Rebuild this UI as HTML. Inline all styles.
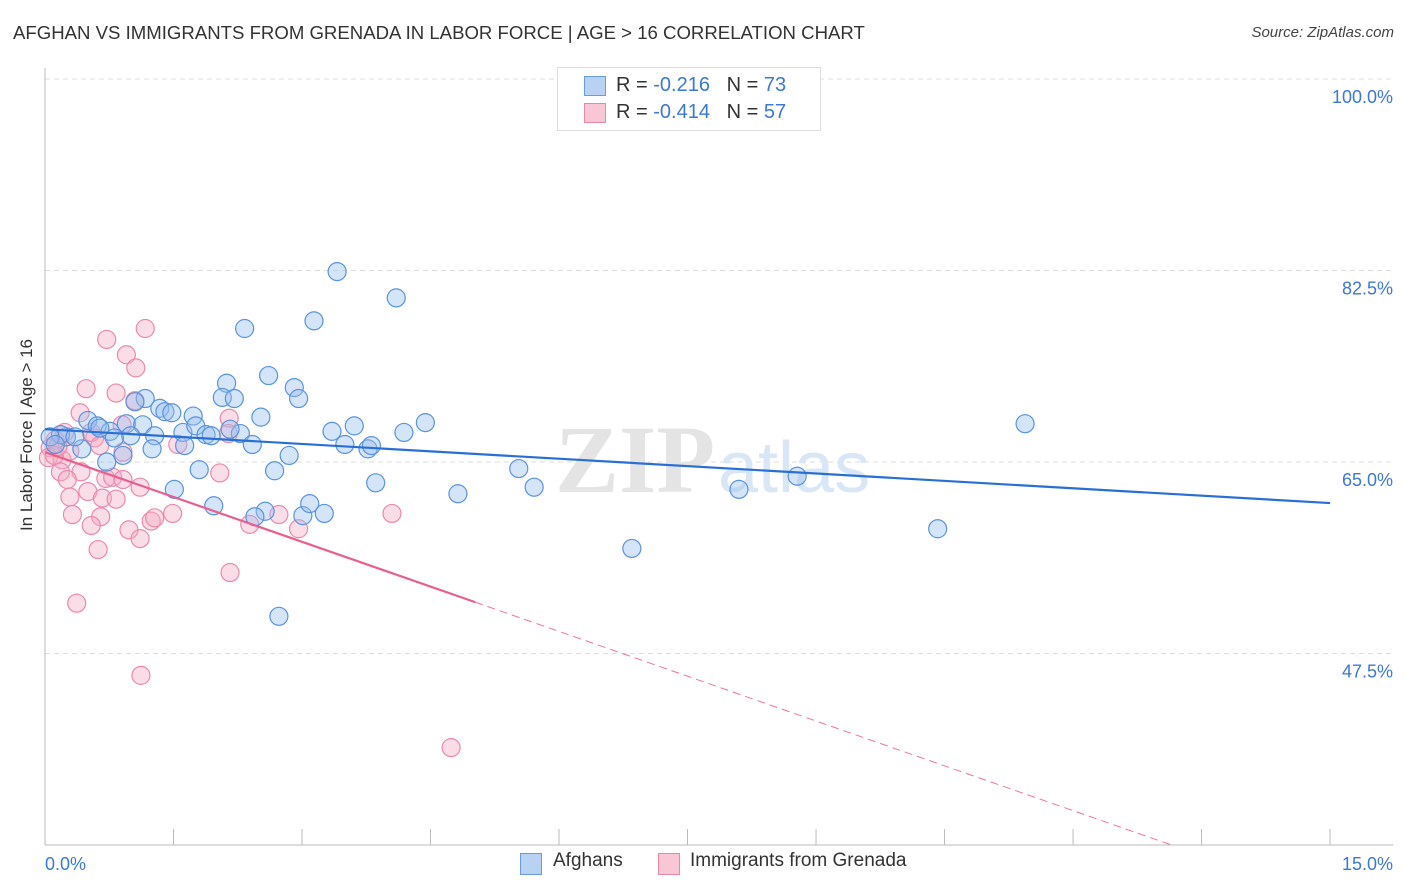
<!DOCTYPE html>
<html><head><meta charset="utf-8">
<style>
body{margin:0;background:#fff;font-family:"Liberation Sans",sans-serif;}
#wrap{position:relative;width:1406px;height:892px;overflow:hidden;}
.t{position:absolute;white-space:nowrap;}
</style></head><body>
<div id="wrap">
<div class="t" style="left:13px;top:22px;font-size:18.6px;color:#333;">AFGHAN VS IMMIGRANTS FROM GRENADA IN LABOR FORCE | AGE &gt; 16 CORRELATION CHART</div>
<div class="t" style="right:12px;top:24px;font-size:15px;color:#444;font-style:italic;">Source: ZipAtlas.com</div>
<div class="t" style="left:-48px;top:446px;font-size:17px;color:#333;transform:rotate(-90deg);width:150px;text-align:center;">In Labor Force | Age &gt; 16</div>
<svg id="svg" width="1406" height="892" style="position:absolute;left:0;top:0"></svg>
<div style="position:absolute;left:557px;top:67px;width:262px;height:62px;border:1px solid #ddd;background:#fff;font-size:20px;">
 <div style="position:absolute;left:26px;top:8px;width:20px;height:18px;background:#b8d2f3;border:1px solid #6a9be0;"></div>
 <div class="t" style="left:58px;top:6px;color:#333;">R = <span style="color:#3b78d8">-0.216</span> &nbsp;&nbsp;N = <span style="color:#3b78d8">73</span></div>
 <div style="position:absolute;left:26px;top:35px;width:20px;height:18px;background:#f9c6d5;border:1px solid #e88aa7;"></div>
 <div class="t" style="left:58px;top:33px;color:#333;">R = <span style="color:#3b78d8">-0.414</span> &nbsp;&nbsp;N = <span style="color:#3b78d8">57</span></div>
</div>
<div style="position:absolute;left:520px;top:853px;width:20px;height:20px;background:#b8d2f3;border:1px solid #6a9be0;"></div>
<div class="t" style="left:553px;top:850px;font-size:19px;color:#333;">Afghans</div>
<div style="position:absolute;left:658px;top:853px;width:20px;height:20px;background:#f9c6d5;border:1px solid #e88aa7;"></div>
<div class="t" style="left:690px;top:850px;font-size:19px;color:#333;">Immigrants from Grenada</div>
</div>
<script>
const yTicks=[100,82.5,65,47.5];
const xTickLabels=["0.0%","15.0%"];
const blueX=[3.41,4.10,2.33,3.14,2.61,2.12,2.91,2.96,2.07,2.21,1.17,1.05,1.34,1.40,1.48,1.73,2.52,0.50,0.61,0.95,1.14,0.76,1.00,1.28,1.61,1.76,1.88,1.94,2.28,2.42,3.35,3.61,3.50,3.77,3.81,4.19,4.44,1.25,1.63,0.91,0.72,0.43,0.25,0.18,0.06,0.12,2.85,1.80,2.68,3.86,1.51,1.97,2.57,2.45,3.01,3.09,3.26,4.82,5.53,5.71,6.85,8.10,8.78,10.42,11.44,2.73,0.81,0.35,0.64,2.16];
const blueY=[82.4,80.0,77.2,77.9,72.9,72.2,71.8,70.8,70.9,70.8,70.8,70.5,69.9,69.6,69.5,69.2,69.1,68.8,68.3,68.5,68.4,67.8,67.4,67.4,67.7,68.3,67.5,67.4,67.6,66.6,67.8,68.3,66.6,66.2,66.5,67.7,68.6,66.2,66.5,65.6,65.0,66.2,67.3,67.5,67.3,66.6,65.6,64.3,64.2,63.1,62.5,61.0,60.5,60.0,60.1,61.2,60.3,62.1,64.4,62.7,57.1,62.5,63.7,58.9,68.5,50.9,67.2,67.3,68.1,68.0];
const pinkX=[1.17,0.72,0.95,1.06,0.48,0.83,1.05,0.41,2.15,0.90,1.55,0.58,0.54,0.23,0.12,0.06,0.04,0.20,0.18,0.42,0.71,0.79,1.11,0.91,2.04,0.50,0.29,0.67,0.83,0.32,0.65,0.54,0.98,1.24,1.28,1.49,1.11,0.62,2.39,2.73,2.96,4.05,2.16,0.37,1.12,4.74,0.11,0.29,0.15,0.91,2.14,0.64,0.26];
const pinkY=[77.2,76.2,74.8,73.6,71.7,71.3,70.6,69.5,69.0,68.4,66.6,67.2,67.7,67.7,67.0,66.3,65.4,65.2,64.1,64.1,63.5,63.6,62.7,63.4,64.0,62.3,61.8,61.7,61.6,60.2,60.0,59.2,58.8,59.6,59.9,60.3,58.0,57.0,59.3,60.2,58.9,60.3,54.9,52.1,45.5,38.9,65.6,66.0,66.4,65.9,67.6,66.5,63.4];
const blueTrend=[68.0,61.25];
const pinkTrend=[65.9,-2.73];
const X=v=>45+v*85.67, Y=v=>79+(100-v)*10.943;
const svg=document.getElementById('svg');const NS='http://www.w3.org/2000/svg';
function mk(t,a){const e=document.createElementNS(NS,t);for(const k in a)e.setAttribute(k,a[k]);svg.appendChild(e);return e;}
yTicks.forEach((v,i)=>{
 const g=mk('line',{x1:45,x2:1393,y1:Y(v),y2:Y(v),stroke:'#ddd','stroke-dasharray':'5,4'});
 
 
 const t=mk('text',{x:1393,y:Y(v)+24,'text-anchor':'end','font-size':18,fill:'#3b78d8','font-family':'Liberation Sans'});
 t.textContent=v.toFixed(1)+'%';
 
 
});
const ax=mk('line',{x1:45,x2:45,y1:68,y2:845,stroke:'#bbb'});


const bx=mk('line',{x1:45,x2:1393,y1:845,y2:845,stroke:'#bbb'});


for(let i=1;i<=10;i++){const k=mk('line',{x1:X(i*1.5),x2:X(i*1.5),y1:829,y2:845,stroke:'#bbb'});
 
 }
xTickLabels.forEach((s,i)=>{const t=mk('text',{x:i?1393:45,y:870,'text-anchor':i?'end':'start','font-size':18,fill:'#3b78d8','font-family':'Liberation Sans'});t.textContent=s;
 
 });
const wm=mk('text',{x:555,y:492,'font-size':96,fill:'#e4e4e4','font-family':'Liberation Serif','font-weight':'bold'});wm.textContent='ZIP';


const wm2=mk('text',{x:718,y:492,'font-size':72,fill:'#d8e6f6','font-family':'Liberation Sans'});wm2.textContent='atlas';


pinkX.forEach((x,i)=>{const c=mk('circle',{cx:X(x),cy:Y(pinkY[i]),r:9,fill:'rgba(245,170,195,0.4)',stroke:'#eb8aaa','stroke-width':1.2});
 
 });
blueX.forEach((x,i)=>{const c=mk('circle',{cx:X(x),cy:Y(blueY[i]),r:9,fill:'rgba(150,190,240,0.4)',stroke:'#5a93de','stroke-width':1.2});
 
 });
const bl=mk('line',{x1:X(0),y1:Y(blueTrend[0]),x2:X(15),y2:Y(blueTrend[1]),stroke:'#2a6fd6','stroke-width':2.2});


const pEnd=(30-pinkTrend[0])/pinkTrend[1];
const pl=mk('line',{x1:X(0),y1:Y(pinkTrend[0]),x2:X(5.02),y2:Y(pinkTrend[0]+pinkTrend[1]*5.02),stroke:'#e8608e','stroke-width':2.2});


const pd=mk('line',{x1:X(5.02),y1:Y(pinkTrend[0]+pinkTrend[1]*5.02),x2:X(pEnd),y2:Y(30),stroke:'#e8799c','stroke-width':1,'stroke-dasharray':'8,5'});


</script>
</body></html>
